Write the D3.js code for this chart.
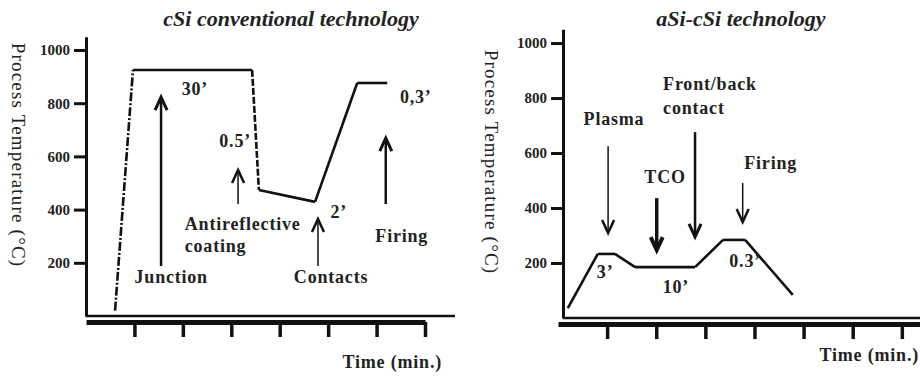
<!DOCTYPE html>
<html>
<head>
<meta charset="utf-8">
<script src="https://cdn.jsdelivr.net/npm/d3@7"></script>
<style>
  body { margin: 0; background: #fff; }
  svg text { font-family: "Liberation Serif", "Times New Roman", serif; }
  .lbl { font-size: 18px; font-weight: bold; fill: #222; letter-spacing: 0.8px; }
  .tick text { font-size: 15px; font-weight: bold; fill: #222; }
  .title { font-size: 22px; font-weight: bold; font-style: italic; fill: #222; }
  .ytitle { font-size: 19px; fill: #222; letter-spacing: 1.2px; }
</style>
</head>
<body>
<div class="chart"></div>
<script>
// left panel : cSi conventional technology
const cSiTime = [0.6, 0.97, 3.43, 3.57, 4.73, 5.6, 6.22];
const cSiTemp = [20, 925, 925, 474, 429, 876, 876];
const cSiArrows = [
  { name: "Junction",       t: 1.55, from: 188, to: 823 },
  { name: "Antireflective", t: 3.14, from: 421, to: 549 },
  { name: "Contacts",       t: 4.79, from: 188, to: 365 },
  { name: "Firing",         t: 6.19, from: 421, to: 669 }
];
const cSiLabels = [
  { text: "Junction",       t: 1.76, T: 124 },
  { text: "Antireflective", t: 2.04, T: 323, anchor: "start" },
  { text: "coating",        t: 2.04, T: 241, anchor: "start" },
  { text: "Contacts",       t: 5.06, T: 124 },
  { text: "Firing",         t: 6.52, T: 278 },
  { text: "30’",            t: 2.25, T: 831 },
  { text: "0.5’",           t: 3.08, T: 635 },
  { text: "2’",             t: 5.22, T: 368 },
  { text: "0,3’",           t: 6.81, T: 801 }
];

// right panel : aSi-cSi technology
const aSiTime = [0.2, 0.81, 1.16, 1.57, 2.79, 3.36, 3.81, 4.78];
const aSiTemp = [36, 233, 233, 185, 185, 284, 284, 84];
const aSiArrows = [
  { name: "Plasma",     t: 1.02, from: 625, to: 309 },
  { name: "TCO",        t: 2.01, from: 436, to: 247 },
  { name: "Front/back", t: 2.79, from: 676, to: 295 },
  { name: "Firing",     t: 3.76, from: 491, to: 349 }
];
const aSiLabels = [
  { text: "Plasma",     t: 1.14, T: 702 },
  { text: "TCO",        t: 2.18, T: 491 },
  { text: "Front/back", t: 2.14, T: 829, anchor: "start" },
  { text: "contact",    t: 2.14, T: 742, anchor: "start" },
  { text: "Firing",     t: 4.33, T: 542 },
  { text: "3’",         t: 0.96, T: 145 },
  { text: "10’",        t: 2.40, T: 91 },
  { text: "0.3’",       t: 3.81, T: 185 }
];

const tempTicks = [200, 400, 600, 800, 1000];
const timeTicks = [1, 2, 3, 4, 5, 6, 7];

const svg = d3.select( ".chart" )
  .append( "svg" )
    .attr( "width", 920 )
    .attr( "height", 376 );

function panel( o ) {
  const x = d3.scaleLinear().domain( [ 0, o.xMax ] ).range( o.xRange );
  const y = d3.scaleLinear().domain( [ 0, 1050 ] ).range( o.yRange );
  const g = svg.append( "g" );
  const x0 = x( 0 ) + o.yShift;

  // y axis
  const yAxis = g.append( "g" )
    .attr( "transform", `translate(${ x0 },0)` )
    .call( d3.axisLeft( y ).tickValues( tempTicks ).tickFormat( d3.format( "d" ) )
      .tickSize( 12 ).tickSizeOuter( 0 ).tickPadding( 4 ) );
  yAxis.attr( "font-family", null );
  yAxis.select( ".domain" ).attr( "stroke-width", 3 ).attr( "stroke", "#111" );
  yAxis.selectAll( ".tick line" ).attr( "stroke-width", 3 ).attr( "stroke", "#111" );

  // thin baseline
  g.append( "line" )
    .attr( "x1", x0 ).attr( "x2", o.baseEnd )
    .attr( "y1", y( 0 ) ).attr( "y2", y( 0 ) )
    .attr( "stroke", "#111" ).attr( "stroke-width", 2.5 );

  // thick time bar with ticks
  const xAxis = g.append( "g" )
    .attr( "transform", `translate(0,${ y( 0 ) + 6 })` )
    .call( d3.axisBottom( x ).tickValues( timeTicks ).tickSize( 15 ).tickSizeOuter( 0 ).tickFormat( "" ) );
  xAxis.select( ".domain" ).attr( "stroke-width", 5 ).attr( "stroke", "#111" );
  xAxis.selectAll( ".tick line" ).attr( "stroke-width", 3.5 ).attr( "stroke", "#111" );

  // temperature profile, one segment at a time for the dash styles
  const pts = o.time.map( ( t, i ) => [ x( t ), y( o.temp[ i ] ) ] );
  d3.pairs( pts ).forEach( ( p, i ) => {
    g.append( "path" )
      .attr( "d", d3.line()( p ) )
      .attr( "fill", "none" )
      .attr( "stroke", "#111" )
      .attr( "stroke-width", 2.6 )
      .attr( "stroke-dasharray", o.dash[ i ] || null );
  } );

  // arrows
  o.arrows.forEach( ( a, i ) => {
    const ax = x( a.t ), y1 = y( a.from ), y2 = y( a.to );
    const dir = y2 < y1 ? 1 : -1;
    const w = o.arrowWidth[ i ];
    g.append( "line" )
      .attr( "x1", ax ).attr( "x2", ax )
      .attr( "y1", y1 ).attr( "y2", y2 + dir * 2 )
      .attr( "stroke", "#111" ).attr( "stroke-width", w );
    g.append( "path" )
      .attr( "d", `M${ ax - 6 },${ y2 + dir * 13 } L${ ax },${ y2 } L${ ax + 6 },${ y2 + dir * 13 }` )
      .attr( "fill", "none" )
      .attr( "stroke", "#111" )
      .attr( "stroke-width", Math.max( w, 2 ) + 0.5 );
  } );

  // labels
  g.selectAll( "text.lbl" )
    .data( o.labels )
    .enter()
      .append( "text" )
      .attr( "class", "lbl" )
      .attr( "x", d => x( d.t ) )
      .attr( "y", d => y( d.T ) )
      .attr( "text-anchor", d => d.anchor || "middle" )
      .text( d => d.text );

  g.append( "text" )
    .attr( "class", "title" )
    .attr( "x", o.titleX ).attr( "y", 26 )
    .attr( "text-anchor", "middle" )
    .text( o.title );

  g.append( "text" )
    .attr( "class", "lbl" )
    .attr( "x", o.timeX ).attr( "y", o.timeY )
    .attr( "text-anchor", "end" )
    .text( "Time (min.)" );

  g.append( "text" )
    .attr( "class", "ytitle" )
    .attr( "transform", `translate(${ o.yTitleX },${ o.yTitleY }) rotate(90)` )
    .attr( "text-anchor", "middle" )
    .attr( "dy", "0.35em" )
    .text( "Process Temperature (°C)" );
}

panel( {
  title: "cSi conventional technology", titleX: 291,
  time: cSiTime, temp: cSiTemp, arrows: cSiArrows, labels: cSiLabels,
  xMax: 7, xRange: [ 86, 425 ], yRange: [ 316, 36.7 ], yShift: 0, baseEnd: 455,
  dash: [ "9,2,2,2", null, "7,2", null, null, null ],
  arrowWidth: [ 2.5, 1.5, 1.5, 2.5 ],
  timeX: 442, timeY: 368, yTitleX: 19, yTitleY: 155
} );

panel( {
  title: "aSi-cSi  technology", titleX: 741,
  time: aSiTime, temp: aSiTemp, arrows: aSiArrows, labels: aSiLabels,
  xMax: 7.37, xRange: [ 558, 920 ], yRange: [ 318, 29.3 ], yShift: 5, baseEnd: 920,
  dash: [],
  arrowWidth: [ 1.5, 3.5, 2.5, 1.5 ],
  timeX: 919, timeY: 361, yTitleX: 492, yTitleY: 162
} );
</script>
</body>
</html>
